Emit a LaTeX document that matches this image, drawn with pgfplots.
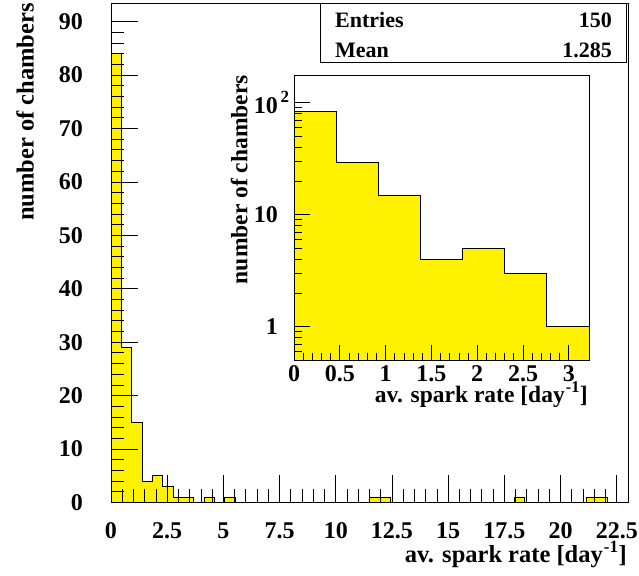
\documentclass[border=0pt]{standalone}
\usepackage{fontspec}
\setmainfont{Liberation Serif}
\usepackage{pgfplots}
\pgfplotsset{compat=1.18}
\newcommand\ftick{\fontsize{24}{28}\selectfont\bfseries}
\newcommand\flab{\fontsize{24.5}{28}\selectfont\bfseries}
\newcommand\fitick{\fontsize{24}{28}\selectfont\bfseries}
\newcommand\filab{\fontsize{23.5}{27}\selectfont\bfseries}
\newcommand\fstat{\fontsize{22}{26}\selectfont\bfseries}

% 50 bins of width 0.46, left edges
\pgfplotstableread{
x y
0 84
0.46 29
0.92 15
1.38 4
1.84 5
2.30 3
2.76 1
3.22 1
3.68 0
4.14 1
4.60 0
5.06 1
5.52 0
5.98 0
6.44 0
6.90 0
7.36 0
7.82 0
8.28 0
8.74 0
9.20 0
9.66 0
10.12 0
10.58 0
11.04 0
11.50 1
11.96 1
12.42 0
12.88 0
13.34 0
13.80 0
14.26 0
14.72 0
15.18 0
15.64 0
16.10 0
16.56 0
17.02 0
17.48 0
17.94 1
18.40 0
18.86 0
19.32 0
19.78 0
20.24 0
20.70 0
21.16 1
21.62 1
22.08 0
22.54 0
23.00 0
}\mainhist

\begin{document}
\begin{tikzpicture}[x=1pt,y=1pt]
\path (0,0) rectangle (639,575);
\begin{axis}[
  at={(111pt,72.5pt)}, anchor=south west,
  scale only axis, width=517pt, height=498.5pt,
  xmin=0, xmax=23, ymin=0, ymax=93.3,
  axis on top,
  axis line style={line width=1pt},
  xtick={0,2.5,...,22.5}, ytick={0,10,...,90},
  minor x tick num=4, minor y tick num=4,
  tick align=inside, xtick pos=bottom, ytick pos=left,
  major tick length=27pt, minor tick length=13pt,
  every tick/.style={black, line width=0.8pt},
  /pgf/number format/assume math mode=true,
  /pgf/number format/fixed,
  xticklabel style={font=\ftick, anchor=north, inner sep=0pt, yshift=-20pt},
  yticklabel style={font=\ftick, anchor=east, inner sep=0pt, xshift=-28pt},
  xlabel={av. spark rate [day\kern1pt\textsuperscript{-1}]},
  ylabel={number of chambers},
  xlabel style={font=\flab, at={(axis description cs:0.998,-0.1194)}, anchor=base east, inner sep=0pt},
  ylabel style={font=\flab, at={(axis description cs:-0.166,1.002)}, anchor=east, inner sep=0pt},
]
\addplot[const plot, fill=yellow, draw=black, line width=0.8pt] table[x=x,y=y] {\mainhist} \closedcycle;
\end{axis}

\begin{axis}[
  at={(294pt,214pt)}, anchor=south west,
  scale only axis, width=295pt, height=285pt,
  ymode=log,
  xmin=0, xmax=3.22, ymin=0.494, ymax=173,
  axis on top,
  axis background/.style={fill=white},
  axis line style={line width=1pt},
  xtick={0,0.5,...,3}, minor x tick num=4,
  yticklabel={\pgfmathparse{int(round(\tick/ln(10)))}%
    \ifcase\pgfmathresult\relax 1\or 10\or 10\rlap{\raisebox{0.45em}{\fontsize{17}{17}\selectfont\,2}}\fi},
  tick align=inside, xtick pos=bottom, ytick pos=left,
  major tick length=16pt, minor tick length=8pt,
  every tick/.style={black, line width=0.8pt},
  /pgf/number format/assume math mode=true,
  /pgf/number format/fixed,
  xticklabel style={font=\fitick, anchor=north, inner sep=0pt, yshift=-4pt},
  yticklabel style={font=\fitick, anchor=east, inner sep=0pt, xshift=-16pt},
  xlabel={av. spark rate [day\kern1pt\textsuperscript{-1}]},
  ylabel={number of chambers},
  xlabel style={font=\filab, at={(axis description cs:0.9966,-0.1439)}, anchor=base east, inner sep=0pt},
  ylabel style={font=\filab, at={(axis description cs:-0.186,1.0035)}, anchor=east, inner sep=0pt},
]
\addplot[const plot, fill=yellow, draw=black, line width=0.8pt] coordinates {
  (0,0.3) (0,84) (0.46,29) (0.92,15) (1.38,4) (1.84,5) (2.30,3) (2.76,1) (3.22,0.3)
};
\end{axis}

\draw[line width=1pt, fill=white] (320,512) rectangle (626,571);
\node[font=\fstat, anchor=base west, inner sep=0pt] at (335,547) {Entries};
\node[font=\fstat, anchor=base east, inner sep=0pt] at (612,547) {150};
\node[font=\fstat, anchor=base west, inner sep=0pt] at (335,517.5) {Mean};
\node[font=\fstat, anchor=base east, inner sep=0pt] at (612,517.5) {1.285};
\end{tikzpicture}
\end{document}
